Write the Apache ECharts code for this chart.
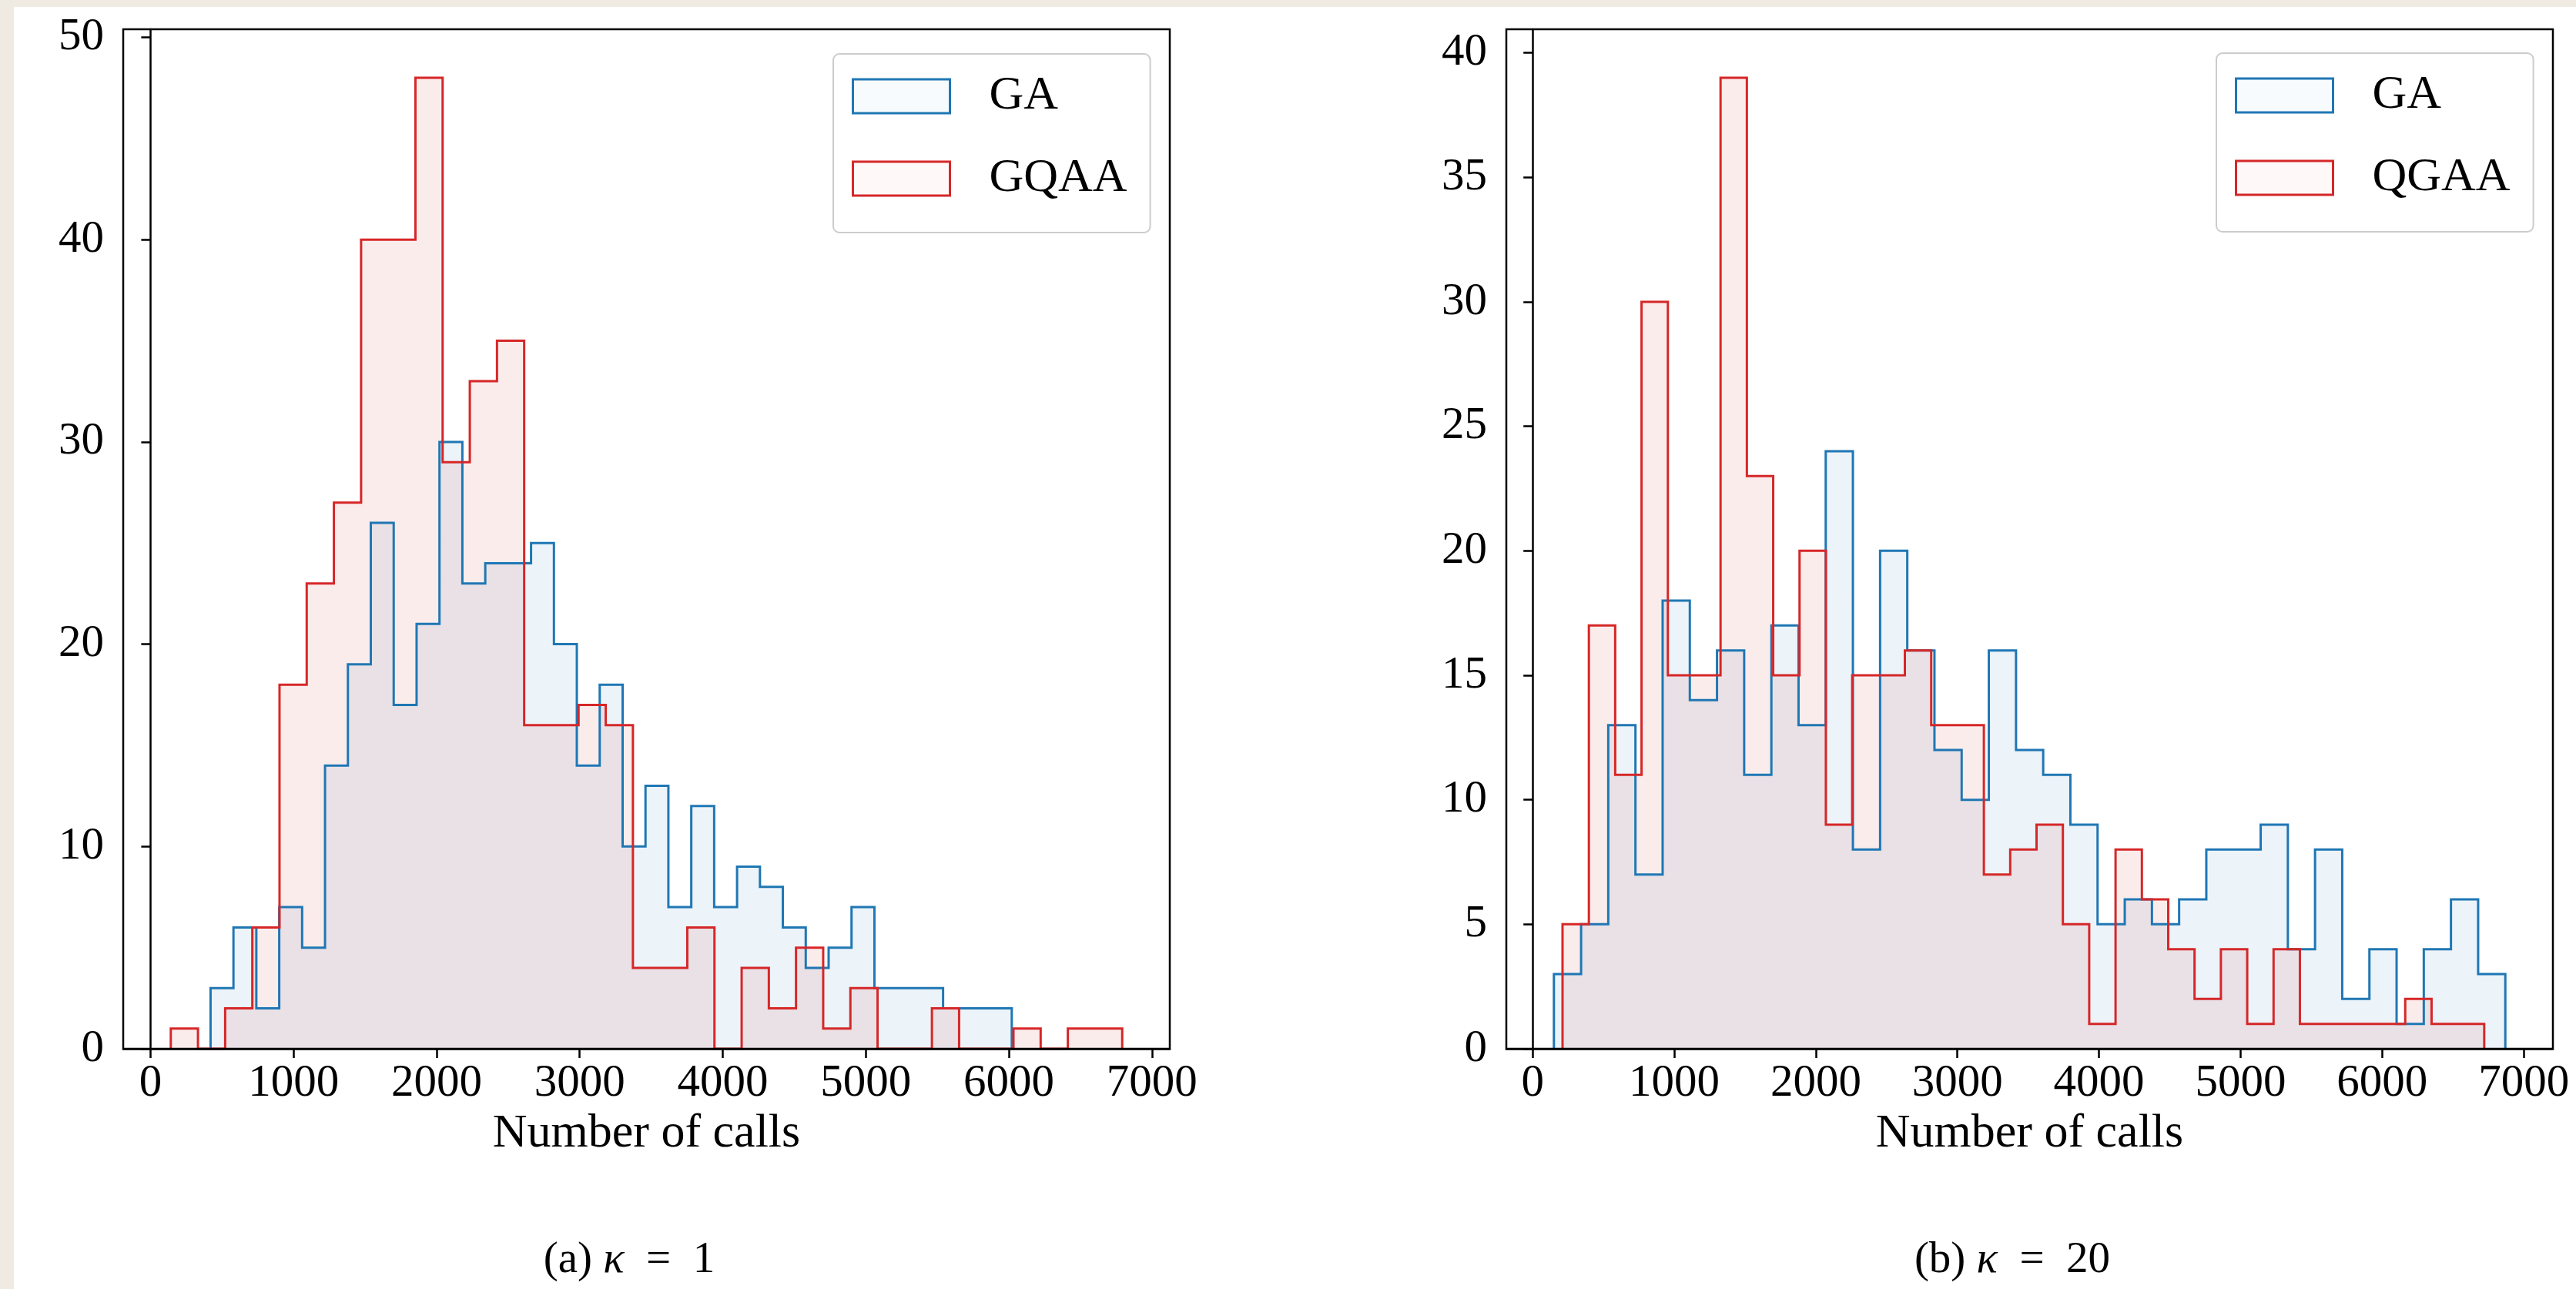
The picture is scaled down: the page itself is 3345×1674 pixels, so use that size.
<!DOCTYPE html>
<html>
<head>
<meta charset="utf-8">
<script src="https://cdn.jsdelivr.net/npm/echarts@6/dist/echarts.min.js"></script>
<style>
  html, body { margin: 0; padding: 0; width: 3345px; height: 1674px; overflow: hidden; background: #efebe3; }
  #sheet { position: absolute; left: 18px; top: 9px; right: 0; bottom: 0; background: #ffffff; }
  #chart { position: absolute; left: 0; top: 0; width: 3345px; height: 1674px; }
</style>
</head>
<body>
<div id="sheet"></div>
<div id="chart"></div>
<script>
// ---- Histogram counts (35 equal-width bins per run) ----
// kappa = 1
const gaK1Counts   = [3, 6, 2, 7, 5, 14, 19, 26, 17, 21, 30, 23, 24, 24, 25, 20, 14, 18, 10, 13,
                      7, 12, 7, 9, 8, 6, 4, 5, 7, 3, 3, 3, 2, 2, 2];
const gqaaK1Counts = [1, 0, 2, 6, 18, 23, 27, 40, 40, 48, 29, 33, 35, 16, 16, 17, 16, 4, 4, 6,
                      0, 4, 2, 5, 1, 3, 0, 0, 2, 0, 0, 1, 0, 1, 1];
// kappa = 20
const gaK20Counts   = [3, 5, 13, 7, 18, 14, 16, 11, 17, 13, 24, 8, 20, 16, 12, 10, 16, 12, 11, 9,
                       5, 6, 5, 6, 8, 8, 9, 4, 8, 2, 4, 1, 4, 6, 3];
const qgaaK20Counts = [5, 17, 11, 30, 15, 15, 39, 23, 15, 20, 9, 15, 15, 16, 13, 13, 7, 8, 9, 5,
                       1, 8, 6, 4, 2, 4, 1, 4, 1, 1, 1, 1, 2, 1, 1];

// ---- Bin layout (number of calls) ----
const gaK1BinStart = 420,   gaK1BinWidth = 160;
const gqaaK1BinStart = 142, gqaaK1BinWidth = 190;
const gaK20BinStart = 150,  gaK20BinWidth = 192;
const qgaaK20BinStart = 211, qgaaK20BinWidth = 186;

// ---- Tick labels ----
const xTicks = [0, 1000, 2000, 3000, 4000, 5000, 6000, 7000];
const yTicksK1 = [0, 10, 20, 30, 40, 50];
const yTicksK20 = [0, 5, 10, 15, 20, 25, 30, 35, 40];

// ---- Names and captions ----
const seriesNamesK1 = ['GA', 'GQAA'];
const seriesNamesK20 = ['GA', 'QGAA'];
const xAxisTitle = 'Number of calls';

const FONT = 'Liberation Serif';
const BLUE = '#1f77b4', RED = '#d62728';
const BLUE_FILL = 'rgba(31,119,180,0.12)', RED_FILL = 'rgba(214,39,40,0.12)';

// Outline of a step histogram: up at the first edge, across each bin, down at the last edge.
function stepOutline(start, width, counts) {
  const pts = [[start, 0]];
  counts.forEach((c, i) => {
    pts.push([start + i * width, c]);
    pts.push([start + (i + 1) * width, c]);
  });
  pts.push([start + counts.length * width, 0]);
  return pts;
}

// Axis extents with a 5% margin on x and on top of y.
function xExtent(runs) {
  const lo = Math.min(...runs.map(r => r[0]));
  const hi = Math.max(...runs.map(r => r[0] + r[1] * r[2].length));
  const pad = 0.05 * (hi - lo);
  return [lo - pad, hi + pad];
}
function yMax(countsList) {
  return 1.05 * Math.max(...countsList.map(c => Math.max(...c)));
}

const xK1 = xExtent([[gaK1BinStart, gaK1BinWidth, gaK1Counts], [gqaaK1BinStart, gqaaK1BinWidth, gqaaK1Counts]]);
const xK20 = xExtent([[gaK20BinStart, gaK20BinWidth, gaK20Counts], [qgaaK20BinStart, qgaaK20BinWidth, qgaaK20Counts]]);
const yK1 = yMax([gaK1Counts, gqaaK1Counts]);
const yK20 = yMax([gaK20Counts, qgaaK20Counts]);

const tickStyle = { color: '#000', width: 2.5 };
const tickLabelStyle = { fontFamily: FONT, fontSize: 59, color: '#000' };
const titleStyle = { fontFamily: FONT, fontSize: 62, color: '#000' };
const plain = v => String(v);

function makeX(gridIndex, ext) {
  return {
    gridIndex, type: 'value', min: ext[0], max: ext[1], z: 10,
    axisLine: { show: true, onZero: false, lineStyle: tickStyle },
    axisTick: { show: true, customValues: xTicks, length: 12, lineStyle: tickStyle },
    axisLabel: Object.assign({ customValues: xTicks, margin: 16, formatter: plain }, tickLabelStyle),
    splitLine: { show: false },
    name: xAxisTitle, nameLocation: 'middle', nameGap: 80,
    nameTextStyle: titleStyle
  };
}
function makeY(gridIndex, maxVal, ticks) {
  return {
    gridIndex, type: 'value', min: 0, max: maxVal, z: 10,
    axisLine: { show: true, lineStyle: tickStyle },
    axisTick: { show: true, customValues: ticks, length: 12, lineStyle: tickStyle },
    axisLabel: Object.assign({ customValues: ticks, margin: 25, formatter: plain }, tickLabelStyle),
    splitLine: { show: false }
  };
}
function makeSeries(name, idx, data, color, fill) {
  return {
    type: 'line', name, xAxisIndex: idx, yAxisIndex: idx, data,
    symbol: 'none', silent: true, animation: false,
    lineStyle: { color, width: 3, join: 'miter', cap: 'butt' },
    itemStyle: { color },
    areaStyle: { color: fill }
  };
}
function makeLegend(names, left, top) {
  return {
    orient: 'vertical', left, top, icon: 'rect',
    itemWidth: 126, itemHeight: 44, itemGap: 45,
    padding: [24, 30, 39, 24],
    backgroundColor: 'rgba(255,255,255,0.8)',
    borderColor: '#cccccc', borderWidth: 2, borderRadius: 8,
    selectedMode: false,
    itemStyle: { borderWidth: 3 },
    textStyle: { fontFamily: FONT, fontSize: 62, color: '#000', lineHeight: 34, padding: [10, 0, 0, 46] },
    data: [
      { name: names[0], itemStyle: { color: 'rgba(31,119,180,0.03)', borderColor: BLUE, borderWidth: 3 } },
      { name: names[1], itemStyle: { color: 'rgba(214,39,40,0.03)', borderColor: RED, borderWidth: 3 } }
    ]
  };
}
function caption(tag, kappa, cx, cy) {
  return {
    type: 'text', x: cx, y: cy, silent: true,
    style: {
      text: '{n|(' + tag + ') }{k|\u03ba}{n|\u2002=\u2002' + kappa + '}',
      align: 'center', verticalAlign: 'middle',
      rich: {
        n: { fontFamily: FONT, fontSize: 57, fill: '#000' },
        k: { fontFamily: FONT, fontSize: 57, fontStyle: 'italic', fill: '#000' }
      }
    }
  };
}

const chart = echarts.init(document.getElementById('chart'), null, { renderer: 'canvas' });
chart.setOption({
  animation: false,
  backgroundColor: 'transparent',
  grid: [
    { left: 160, top: 38, width: 1359, height: 1324, show: true, borderColor: '#000', borderWidth: 2.5, z: 5 },
    { left: 1956, top: 38, width: 1359, height: 1324, show: true, borderColor: '#000', borderWidth: 2.5, z: 5 }
  ],
  xAxis: [makeX(0, xK1), makeX(1, xK20)],
  yAxis: [makeY(0, yK1, yTicksK1), makeY(1, yK20, yTicksK20)],
  legend: [makeLegend(seriesNamesK1, 1082, 70), makeLegend(seriesNamesK20, 2878, 69)],
  series: [
    makeSeries(seriesNamesK1[0], 0, stepOutline(gaK1BinStart, gaK1BinWidth, gaK1Counts), BLUE, BLUE_FILL),
    makeSeries(seriesNamesK1[1], 0, stepOutline(gqaaK1BinStart, gqaaK1BinWidth, gqaaK1Counts), RED, RED_FILL),
    makeSeries(seriesNamesK20[0], 1, stepOutline(gaK20BinStart, gaK20BinWidth, gaK20Counts), BLUE, BLUE_FILL),
    makeSeries(seriesNamesK20[1], 1, stepOutline(qgaaK20BinStart, qgaaK20BinWidth, qgaaK20Counts), RED, RED_FILL)
  ],
  graphic: [
    caption('a', '1', 817, 1637),
    caption('b', '20', 2613, 1637)
  ]
});
</script>
</body>
</html>
